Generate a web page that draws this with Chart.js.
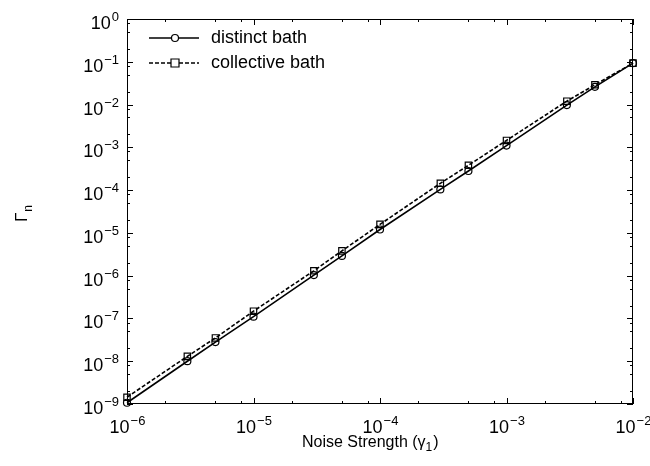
<!DOCTYPE html>
<html>
<head>
<meta charset="utf-8">
<script src="https://cdn.jsdelivr.net/npm/chart.js@4/dist/chart.umd.min.js"></script>
<style>
  html, body { margin: 0; padding: 0; background: #fff; }
  #wrap { width: 650px; height: 466px; }
</style>
</head>
<body>
<div id="wrap"><canvas id="chart" width="650" height="466"></canvas></div>
<script>
const noise = [1e-6, 3e-6, 5e-6, 1e-5, 3e-5, 5e-5, 1e-4, 3e-4, 5e-4, 1e-3, 3e-3, 5e-3, 1e-2];
const distinct = [1.07e-9, 1.0e-8, 2.8e-8, 1.1e-7, 1.03e-6, 2.9e-6, 1.2e-5, 1.04e-4, 2.8e-4, 1.1e-3, 9.7e-3, 2.6e-2, 9.3e-2];
const collective = [1.44e-9, 1.3e-8, 3.5e-8, 1.48e-7, 1.3e-6, 3.8e-6, 1.58e-5, 1.44e-4, 3.8e-4, 1.45e-3, 1.2e-2, 2.9e-2, 9.3e-2];
const xExps = [-6, -5, -4, -3, -2];
const yExps = [0, -1, -2, -3, -4, -5, -6, -7, -8, -9];
const minorSteps = [2, 5, 8];
const seriesNames = ['distinct bath', 'collective bath'];

const FONT = "'Liberation Sans', Arial, sans-serif";

function pow10(ctx, exp, x, y, align) {
  const base = '10';
  const sup = exp < 0 ? '\u2212' + (-exp) : String(exp);
  ctx.font = '18px ' + FONT;
  const wb = ctx.measureText(base).width;
  ctx.font = '13px ' + FONT;
  const ws = ctx.measureText(sup).width;
  let left = align === 'center' ? x - (wb + ws) / 2 : x - (wb + ws);
  ctx.textAlign = 'left';
  ctx.textBaseline = 'alphabetic';
  ctx.font = '18px ' + FONT;
  ctx.fillText(base, left, y);
  ctx.font = '13px ' + FONT;
  ctx.fillText(sup, left + wb + 1, y - 8);
}

const decor = {
  id: 'decor',
  afterDraw(chart) {
    const ctx = chart.ctx;
    const a = chart.chartArea;
    const xs = chart.scales.x, ys = chart.scales.y;
    ctx.save();
    ctx.strokeStyle = '#000';
    ctx.fillStyle = '#000';
    ctx.lineWidth = 1;
    ctx.strokeRect(a.left + 0.5, a.top + 0.5, a.right - a.left - 1, a.bottom - a.top - 1);

    ctx.beginPath();
    // x ticks (bottom and top)
    xExps.forEach(e => {
      const px = Math.round(xs.getPixelForValue(Math.pow(10, e))) + 0.5;
      ctx.moveTo(px, a.bottom); ctx.lineTo(px, a.bottom - 6);
      ctx.moveTo(px, a.top); ctx.lineTo(px, a.top + 6);
      if (e < -2) minorSteps.forEach(m => {
        const mx = Math.round(xs.getPixelForValue(m * Math.pow(10, e))) + 0.5;
        ctx.moveTo(mx, a.bottom); ctx.lineTo(mx, a.bottom - 3);
        ctx.moveTo(mx, a.top); ctx.lineTo(mx, a.top + 3);
      });
    });
    // y ticks (left and right)
    yExps.forEach(e => {
      const py = Math.round(ys.getPixelForValue(Math.pow(10, e))) + 0.5;
      ctx.moveTo(a.left, py); ctx.lineTo(a.left + 6, py);
      ctx.moveTo(a.right, py); ctx.lineTo(a.right - 6, py);
      if (e < 0) minorSteps.forEach(m => {
        const my = Math.round(ys.getPixelForValue(m * Math.pow(10, e))) + 0.5;
        ctx.moveTo(a.left, my); ctx.lineTo(a.left + 3, my);
        ctx.moveTo(a.right, my); ctx.lineTo(a.right - 3, my);
      });
    });
    ctx.stroke();

    // tick labels
    xExps.forEach(e => pow10(ctx, e, xs.getPixelForValue(Math.pow(10, e)), a.bottom + 29, 'center'));
    yExps.forEach(e => pow10(ctx, e, a.left - 9, ys.getPixelForValue(Math.pow(10, e)) + 10, 'right'));

    // x title
    ctx.font = '16px ' + FONT;
    ctx.textAlign = 'left';
    ctx.textBaseline = 'alphabetic';
    const t1 = 'Noise Strength (\u03b3';
    const w1 = ctx.measureText(t1).width;
    const tx = 302, ty = 447;
    ctx.fillText(t1, tx, ty);
    ctx.font = '12px ' + FONT;
    ctx.fillText('1', tx + w1, ty + 4);
    const w2 = ctx.measureText('1').width;
    ctx.font = '16px ' + FONT;
    ctx.fillText(')', tx + w1 + w2 + 1, ty);

    // y title
    ctx.save();
    ctx.translate(27, 222);
    ctx.rotate(-Math.PI / 2);
    ctx.font = '17px ' + FONT;
    ctx.fillText('\u0393', 0, 0);
    const wg = ctx.measureText('\u0393').width;
    ctx.font = '12px ' + FONT;
    ctx.fillText('n', wg + 1, 5);
    ctx.restore();

    // legend
    const rows = [{ y: 38, dash: [], style: 'circle' }, { y: 63, dash: [4, 2], style: 'rect' }];
    rows.forEach((r, i) => {
      ctx.lineWidth = 1.6;
      ctx.setLineDash(r.dash);
      ctx.beginPath();
      ctx.moveTo(149, r.y); ctx.lineTo(199, r.y);
      ctx.stroke();
      ctx.setLineDash([]);
      ctx.lineWidth = 1.2;
      ctx.beginPath();
      if (r.style === 'circle') ctx.arc(175, r.y, 3.5, 0, Math.PI * 2);
      else ctx.rect(171, r.y - 4, 8, 8);
      ctx.fillStyle = '#fff';
      ctx.fill();
      ctx.stroke();
      ctx.fillStyle = '#000';
      ctx.font = '18px ' + FONT;
      ctx.textBaseline = 'middle';
      ctx.fillText(seriesNames[i], 211, r.y);
    });
    ctx.restore();
  }
};

const ctx = document.getElementById('chart').getContext('2d');
new Chart(ctx, {
  type: 'line',
  data: {
    datasets: [
      {
        label: seriesNames[0],
        data: noise.map((x, i) => ({ x, y: distinct[i] })),
        borderColor: '#000',
        borderWidth: 1.6,
        pointStyle: 'circle',
        pointRadius: 3.5,
        pointBorderWidth: 1.2,
        pointBorderColor: '#000',
        pointBackgroundColor: 'rgba(0,0,0,0)',
        tension: 0,
        clip: false
      },
      {
        label: seriesNames[1],
        data: noise.map((x, i) => ({ x, y: collective[i] })),
        borderColor: '#000',
        borderWidth: 1.6,
        borderDash: [4, 2],
        pointStyle: 'rect',
        pointRadius: 4.5,
        pointBorderWidth: 1.2,
        pointBorderColor: '#000',
        pointBackgroundColor: 'rgba(0,0,0,0)',
        tension: 0,
        clip: false
      }
    ]
  },
  options: {
    responsive: false,
    animation: false,
    layout: { padding: { left: 127, right: 17, top: 19, bottom: 62 } },
    plugins: { legend: { display: false }, tooltip: { enabled: false } },
    scales: {
      x: { type: 'logarithmic', min: 1e-6, max: 1e-2, display: false },
      y: { type: 'logarithmic', min: 1e-9, max: 1, display: false }
    }
  },
  plugins: [decor]
});
</script>
</body>
</html>
